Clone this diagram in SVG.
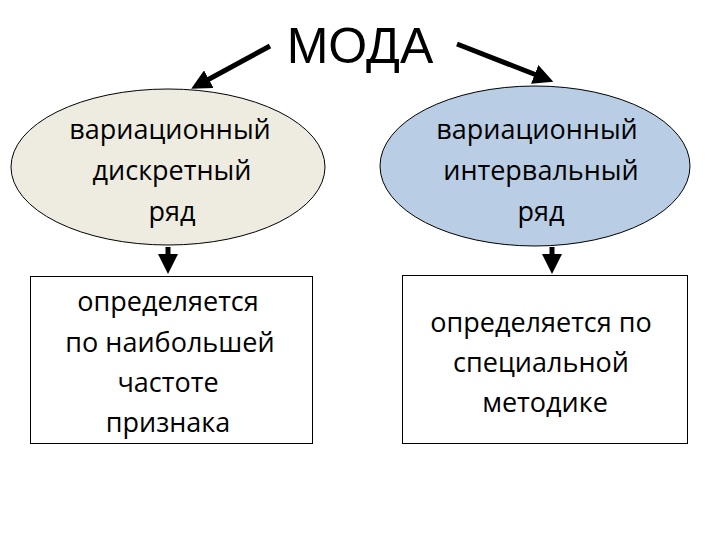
<svg xmlns="http://www.w3.org/2000/svg" width="720" height="540" viewBox="0 0 720 540">
<style>
.t{font-family:"Open Sans","DejaVu Sans",sans-serif;font-size:27px;fill:#000;text-anchor:middle}
.c{stroke:#000;stroke-width:5;fill:none}
.b{fill:#fff;stroke:#000;stroke-width:1}
</style>
<defs><marker id="a" markerWidth="4" markerHeight="4" refX="2" refY="2" orient="auto" markerUnits="strokeWidth"><path d="M0,0L4,2L0,4z" fill="#000"/></marker></defs>
<rect width="720" height="540" fill="#fff"/>
<g id="title"><text x="360" y="63" style="font-family:'Liberation Sans',sans-serif;font-size:50px;text-anchor:middle">МОДА</text></g>
<g id="connectors">
<line class="c" x1="270" y1="46" x2="200" y2="84" marker-end="url(#a)"/>
<line class="c" x1="457" y1="44" x2="544" y2="78" marker-end="url(#a)"/>
<line class="c" x1="168" y1="247" x2="168" y2="264" marker-end="url(#a)"/>
<line class="c" x1="552" y1="247" x2="552" y2="264" marker-end="url(#a)"/>
</g>
<g id="n1"><ellipse cx="168" cy="167" rx="157" ry="78" fill="#eeece1" stroke="#000"/>
<text class="t" x="170" y="139">вариационный</text><text class="t" x="172" y="180">дискретный</text><text class="t" x="172" y="221">ряд</text></g>
<g id="n2"><ellipse cx="535" cy="166" rx="155" ry="80" fill="#b9cde5" stroke="#000"/>
<text class="t" x="537" y="139">вариационный</text><text class="t" x="541" y="180">интервальный</text><text class="t" x="541" y="221">ряд</text></g>
<g id="n3"><rect class="b" x="30.5" y="276.5" width="282" height="167"/>
<text class="t" x="168" y="311">определяется</text><text class="t" x="170" y="352">по наибольшей</text><text class="t" x="168" y="392">частоте</text><text class="t" x="168" y="432">признака</text></g>
<g id="n4"><rect class="b" x="402.5" y="275.5" width="285" height="168"/>
<text class="t" x="541" y="332">определяется по</text><text class="t" x="541" y="372">специальной</text><text class="t" x="545" y="412">методике</text></g>
</svg>
